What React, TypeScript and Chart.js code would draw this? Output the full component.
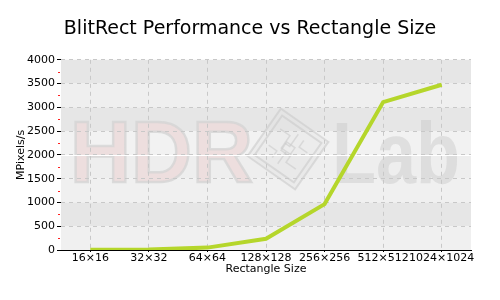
import { useEffect, useRef } from 'react';
import { Chart, registerables } from 'chart.js';

Chart.register(...registerables);

const categories = ['16×16', '32×32', '64×64', '128×128', '256×256', '512×512', '1024×1024'];
const mpixels = [5, 10, 50, 235, 965, 3110, 3475];
const yMax = 4000;
const yStep = 500;
const minorTickValues = [250, 750, 1250, 1750, 2250, 2750, 3250, 3750];
const bandColors = ['#e6e6e6', '#efefef', '#e6e6e6', '#f2f2f2', '#eeeeee', '#f0f0f0', '#e6e6e6', '#f0f0f0'];
const highlightLineValue = 2000;

const backgroundPlugin = {
  id: 'bgBands',
  beforeDraw(chart: any) {
    const { ctx, chartArea } = chart;
    const y = chart.scales.y;
    ctx.save();
    for (let i = 0; i < bandColors.length; i++) {
      const top = y.getPixelForValue(yMax - i * yStep);
      const bot = y.getPixelForValue(yMax - (i + 1) * yStep);
      ctx.fillStyle = bandColors[i];
      ctx.fillRect(chartArea.left, top, chartArea.right - chartArea.left, bot - top);
    }
    ctx.beginPath();
    ctx.rect(chartArea.left, chartArea.top, chartArea.right - chartArea.left, chartArea.bottom - chartArea.top);
    ctx.clip();
    const drawFit = (text: string, font: string, x: number, baseline: number, width: number, fill: string, stroke?: string) => {
      ctx.save();
      ctx.font = font;
      const w = ctx.measureText(text).width;
      ctx.translate(x, baseline);
      ctx.scale(width / w, 1);
      ctx.textBaseline = 'alphabetic';
      ctx.textAlign = 'left';
      ctx.fillStyle = fill;
      ctx.fillText(text, 0, 0);
      if (stroke) {
        ctx.strokeStyle = stroke;
        ctx.lineWidth = 2.5;
        ctx.strokeText(text, 0, 0);
      }
      ctx.restore();
    };
    drawFit('HDR', 'bold 87px "Liberation Sans"', 70, 182, 183, 'rgba(236,218,218,0.85)', 'rgba(212,212,212,0.8)');
    drawFit('Lab', 'bold 88px "Liberation Sans"', 332, 183, 128, 'rgba(200,200,200,0.45)');
    ctx.save();
    ctx.translate(288, 149);
    ctx.rotate((35 * Math.PI) / 180);
    ctx.globalAlpha = 0.55;
    ctx.strokeStyle = '#c8c8c8';
    ctx.fillStyle = 'rgba(225,225,225,0.6)';
    ctx.lineWidth = 2;
    ctx.fillRect(-29, -29, 58, 58);
    ctx.strokeRect(-29, -29, 58, 58);
    ctx.strokeRect(-24, -24, 48, 48);
    ctx.lineWidth = 1.5;
    ctx.beginPath();
    ctx.moveTo(-18, -12); ctx.lineTo(-6, -12); ctx.lineTo(-6, -3); ctx.lineTo(0, -3); ctx.lineTo(0, -18);
    ctx.moveTo(18, 12); ctx.lineTo(6, 12); ctx.lineTo(6, 3); ctx.lineTo(0, 3); ctx.lineTo(0, 18);
    ctx.moveTo(-18, 8); ctx.lineTo(-8, 8); ctx.lineTo(-8, 16);
    ctx.moveTo(18, -8); ctx.lineTo(8, -8); ctx.lineTo(8, -16);
    ctx.moveTo(-6, -3); ctx.lineTo(-6, 3); ctx.lineTo(6, 3);
    ctx.stroke();
    ctx.strokeRect(-5, -5, 10, 10);
    ctx.restore();
    ctx.restore();
  },
  beforeDatasetsDraw(chart: any) {
    const { ctx, chartArea } = chart;
    const y = chart.scales.y;
    ctx.save();
    const py = Math.round(y.getPixelForValue(highlightLineValue)) + 0.5;
    ctx.strokeStyle = '#ffffff';
    ctx.lineWidth = 1;
    ctx.beginPath();
    ctx.moveTo(chartArea.left, py);
    ctx.lineTo(chartArea.right, py);
    ctx.stroke();
    ctx.fillStyle = '#ff2020';
    for (const v of minorTickValues) {
      const p = Math.round(y.getPixelForValue(v));
      ctx.fillRect(chartArea.left - 3, p, 2, 1);
    }
    ctx.restore();
  },
};

export default function App() {
  const canvasRef = useRef<HTMLCanvasElement | null>(null);

  useEffect(() => {
    document.body.style.margin = '0';
    const canvas = canvasRef.current;
    if (!canvas) return;
    const chart = new Chart(canvas, {
      type: 'line',
      data: {
        labels: categories,
        datasets: [
          {
            label: 'MPixels/s',
            data: mpixels,
            borderColor: '#b5d62b',
            backgroundColor: '#b5d62b',
            borderWidth: 4,
            pointRadius: 0,
            tension: 0,
            fill: false,
          },
        ],
      },
      options: {
        responsive: false,
        animation: false,
        layout: { padding: 0 },
        plugins: {
          legend: { display: false },
          tooltip: { enabled: false },
          title: {
            display: true,
            text: 'BlitRect Performance vs Rectangle Size',
            color: '#000',
            font: { family: '"DejaVu Sans"', size: 19, weight: 'normal' },
            padding: { top: 18, bottom: 19 },
          },
        },
        scales: {
          x: {
            type: 'category',
            offset: true,
            grid: {
              offset: false,
              color: '#c8c8c8',
              tickColor: '#000',
              tickLength: 2,
            },
            border: { display: true, color: '#000', width: 1, dash: [4, 4] },
            ticks: {
              color: '#000',
              font: { family: '"DejaVu Sans"', size: 11 },
              maxRotation: 0,
              minRotation: 0,
              autoSkip: false,
              padding: 0,
            },
            title: {
              display: true,
              text: 'Rectangle Size',
              color: '#000',
              font: { family: '"DejaVu Sans"', size: 11 },
              padding: { top: 0, bottom: 24 },
            },
            afterFit(scale: any) {
              scale.height = 50;
            },
          },
          y: {
            min: 0,
            max: yMax,
            ticks: {
              stepSize: yStep,
              color: '#000',
              font: { family: '"DejaVu Sans"', size: 11 },
              padding: 2,
              callback: (v: any) => String(v),
            },
            grid: {
              color: '#c8c8c8',
              tickColor: '#000',
              tickLength: 4,
            },
            border: { display: false, dash: [4, 4] },
            title: {
              display: true,
              text: 'MPixels/s',
              color: '#000',
              font: { family: '"DejaVu Sans"', size: 11 },
              padding: { top: 15, bottom: 0 },
            },
            afterFit(scale: any) {
              scale.width = 61;
            },
          },
          yRight: {
            position: 'right',
            display: true,
            min: 0,
            max: yMax,
            ticks: { display: false },
            grid: { display: false, drawTicks: false },
            border: { display: false },
            afterFit(scale: any) {
              scale.width = 29;
            },
          },
        },
      },
      plugins: [backgroundPlugin],
    });
    return () => chart.destroy();
  }, []);

  return (
    <div style={{ position: 'absolute', left: 0, top: 0, width: 500, height: 300, background: '#fff' }}>
      <canvas ref={canvasRef} width={500} height={300} style={{ display: 'block' }} />
    </div>
  );
}
